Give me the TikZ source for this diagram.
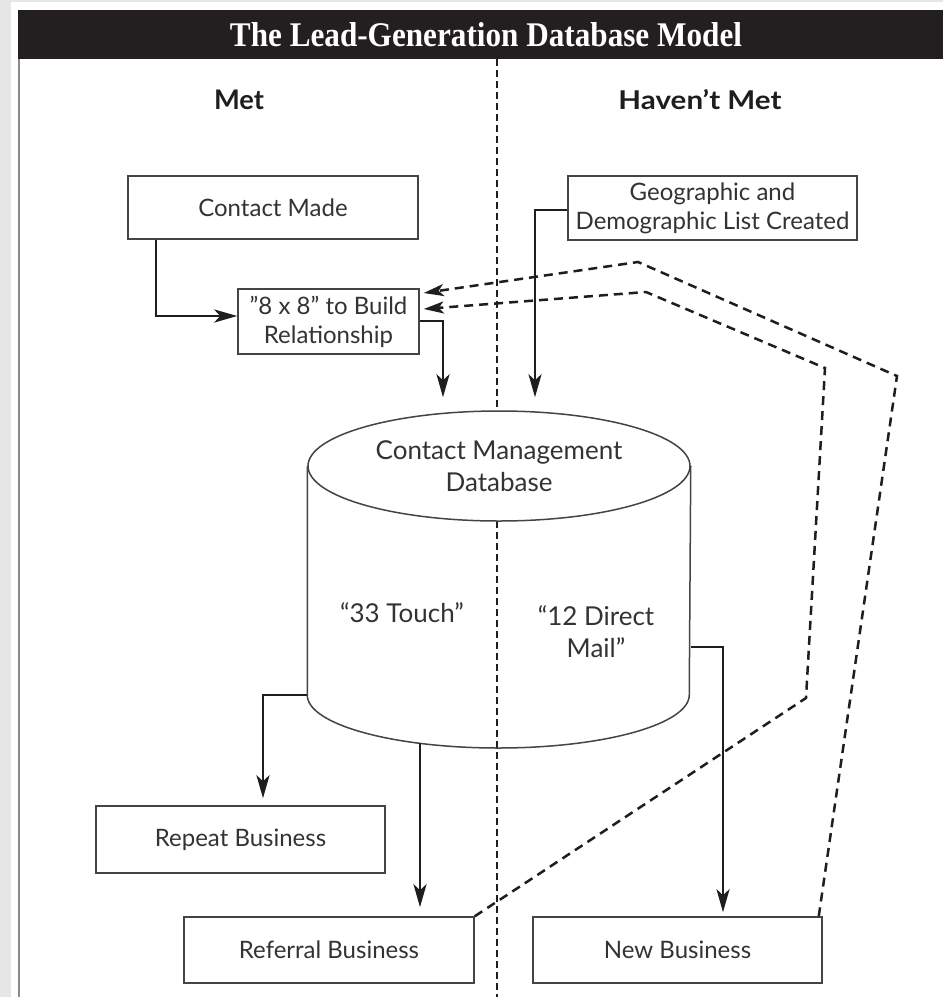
\documentclass[tikz,border=0pt]{standalone}
\usepackage{graphicx}
\usepackage{fontspec}
\setmainfont{Lato}
\newfontfamily\titlefont{Liberation Serif}
\usetikzlibrary{arrows.meta,shapes.geometric}
\definecolor{bannerc}{HTML}{231F20}
\definecolor{bgc}{HTML}{E6E6E6}
\definecolor{txtc}{HTML}{333333}
\definecolor{boxc}{HTML}{444444}
\definecolor{linec}{HTML}{1E1E1E}
\definecolor{framec}{HTML}{8A8A8A}
\begin{document}
\begin{tikzpicture}[x=1pt,y=-1pt,
  bx/.style={draw=boxc, line width=1.5pt, fill=white, inner sep=0pt, text=txtc,
    font=\fontsize{24}{29}\selectfont, align=center},
  dbtext/.style={text=txtc, font=\fontsize{26}{32}\selectfont, align=center, inner sep=0pt},
  conn/.style={line width=2.8pt, draw=linec, line join=miter, -{Stealth[length=23pt,width=13pt,inset=6pt]}},
  dconn/.style={line width=2.5pt, draw=linec, dash pattern=on 9pt off 6pt, line join=miter,
    -{Stealth[length=20pt,width=12pt,inset=5pt]}},
  divider/.style={line width=2.3pt, draw=linec, dash pattern=on 7pt off 4pt},
  cyl/.style={draw=boxc, line width=1.5pt}
]
\useasboundingbox (0,0) rectangle (943,997);
% background and frame
\fill[bgc] (0,0) rectangle (943,997);
\fill[white] (11,2) rectangle (943,997);
\fill[bannerc] (18,10) rectangle (943,59);
\draw[framec, line width=1.5pt] (19,59) -- (19,997);
% title and headings
\node[anchor=base, text=white, inner sep=0pt] (title) at (486,46)
  {\resizebox{512pt}{24pt}{\titlefont\bfseries The Lead-Generation Database Model}};
\node[anchor=base, text=linec, inner sep=0pt] (met) at (239,109.5)
  {\resizebox{50pt}{19.5pt}{\bfseries Met}};
\node[anchor=base, text=linec, inner sep=0pt] (hmet) at (700,109.5)
  {\resizebox{163pt}{20pt}{\bfseries Haven’t Met}};
% divider
\draw[divider] (497,59) -- (497,997);
% boxes
\node[bx, minimum width=290pt, minimum height=63pt] (cm) at (273,207.5) {Contact Made};
\node[bx, minimum width=181pt, minimum height=65pt] (rel) at (328.5,321.5) {”8 x 8” to Build\\Relationship};
\node[bx, minimum width=289pt, minimum height=64pt] (geo) at (712.5,208) {Geographic and\\Demographic List Created};
\node[bx, minimum width=289pt, minimum height=67pt] (rep) at (240.5,839.5) {Repeat Business};
\node[bx, minimum width=290pt, minimum height=66pt] (ref) at (329,950) {Referral Business};
\node[bx, minimum width=289pt, minimum height=66pt] (new) at (677.5,950) {New Business};
% database cylinder
\node[ellipse, draw=boxc, line width=1.5pt, fill=white, minimum width=382pt, minimum height=110pt,
  inner sep=0pt, dbtext] (db) at (499,466) {Contact Management\\Database};
\draw[cyl] (db.west) -- (db.west |- 0,695) arc[start angle=180, end angle=0, x radius=191, y radius=53] -- (db.east);
\node[dbtext] (touch) at (402,613) {“33 Touch”};
\node[dbtext] (mail) at (596,632) {“12 Direct\\Mail”};
\coordinate (dbB) at (420,743);
% solid connectors
\draw[conn] (cm.south -| 156,0) |- (rel.west |- 0,316);
\draw[conn, shorten >=13pt] (rel.east |- 0,321) -| (db.north -| 443,0);
\draw[conn, shorten >=13pt] (geo.west |- 0,210) -| (db.north -| 535,0);
\draw[conn, shorten >=7pt] (db.west |- 0,695) -| (rep.north -| 263,0);
\draw[conn, shorten >=9pt] (dbB) -- (ref.north -| dbB);
\draw[conn, shorten >=4pt] (db.east |- 0,647) -| (new.north -| 723,0);
% dashed feedback connectors
\draw[dconn] ([xshift=-4pt]new.north east) -- (897,376) -- (638,262) -- ([xshift=4pt,yshift=28.5pt]rel.east);
\draw[dconn] (ref.north east) -- (806,698) -- (825,368) -- (646,292) -- ([xshift=4pt,yshift=12.5pt]rel.east);
\end{tikzpicture}
\end{document}
